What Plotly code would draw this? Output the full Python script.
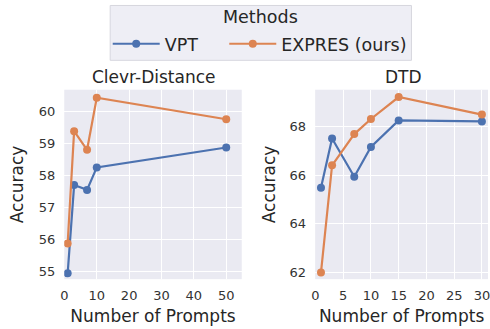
import plotly.graph_objects as go

# Data
clevr_x = [1, 3, 7, 10, 50]
clevr_vpt = [54.95, 57.70, 57.55, 58.25, 58.87]
clevr_expres = [55.88, 59.38, 58.80, 60.42, 59.75]

dtd_x = [1, 3, 7, 10, 15, 30]
dtd_vpt = [65.48, 67.50, 65.93, 67.15, 68.24, 68.20]
dtd_expres = [62.00, 66.40, 67.68, 68.30, 69.20, 68.48]

series_names = ["VPT", "EXPRES (ours)"]
colors = ["#4C72B0", "#DD8452"]
titles = ["Clevr-Distance", "DTD"]
legend_title = "Methods"

FONT = "DejaVu Sans"
TXT = "#262626"
W, H = 490, 329

fig = go.Figure()

def add(x, y, name, color, xa, ya, show, leg):
    fig.add_trace(go.Scatter(
        x=x, y=y, name=name, mode="lines+markers",
        line=dict(color=color, width=2.2),
        marker=dict(color=color, size=8),
        xaxis=xa, yaxis=ya, showlegend=show, legendgroup=name, legend=leg,
    ))

add(clevr_x, clevr_vpt, series_names[0], colors[0], "x", "y", True, "legend")
add(clevr_x, clevr_expres, series_names[1], colors[1], "x", "y", True, "legend2")
add(dtd_x, dtd_vpt, series_names[0], colors[0], "x2", "y2", False, "legend")
add(dtd_x, dtd_expres, series_names[1], colors[1], "x2", "y2", False, "legend2")

ydom = [1 - 280 / H, 1 - 90 / H]
axis_common = dict(
    showgrid=True, gridcolor="white", gridwidth=1, zeroline=False,
    showline=False, ticks="", tickfont=dict(family=FONT, size=13, color="#333333"),
    title_font=dict(family=FONT, size=17, color=TXT), ticklabeloverflow="allow",
)
leg_common = dict(
    orientation="h", yanchor="middle", y=1 - 44 / H, xanchor="left",
    bgcolor="rgba(0,0,0,0)", borderwidth=0, itemwidth=47,
    font=dict(family=FONT, size=17.5, color=TXT),
)

fig.update_layout(
    width=W, height=H,
    margin=dict(l=0, r=0, t=0, b=0),
    paper_bgcolor="white", plot_bgcolor="#EAEAF2",
    font=dict(family=FONT, color=TXT),
    xaxis=dict(domain=[61 / W, 240.7 / W], range=[-0.05, 54.8], tickvals=[0, 10, 20, 30, 40, 50],
               anchor="y", title=dict(text="Number of Prompts", standoff=7), ticklabelstandoff=7, **axis_common),
    yaxis=dict(domain=ydom, range=[54.77, 60.67], tickvals=[55, 56, 57, 58, 59, 60],
               anchor="x", title=dict(text="Accuracy", standoff=10), ticklabelstandoff=8, **axis_common),
    xaxis2=dict(domain=[315 / W, 1.0], range=[-0.05, 31.1], tickvals=[0, 5, 10, 15, 20, 25, 30],
                anchor="y2", title=dict(text="Number of Prompts", standoff=7), ticklabelstandoff=7, **axis_common),
    yaxis2=dict(domain=ydom, range=[61.73, 69.5], tickvals=[62, 64, 66, 68],
                anchor="x2", title=dict(text="Accuracy", standoff=9), ticklabelstandoff=8, **axis_common),
    legend=dict(x=105 / W, **leg_common),
    legend2=dict(x=223 / W, **leg_common),
    shapes=[dict(type="rect", xref="paper", yref="paper",
                 x0=107.5 / W, x1=412.5 / W, y0=1 - 60.5 / H, y1=1 - 5.5 / H,
                 fillcolor="rgba(234,234,242,0.8)", line=dict(color="#d6d6de", width=1), layer="below")],
    annotations=[
        dict(text=legend_title, x=259.5 / W, y=1 - 17.5 / H, xref="paper", yref="paper",
             showarrow=False, font=dict(family=FONT, size=17.5, color=TXT), xanchor="center", yanchor="middle"),
        dict(text=titles[0], x=(61 + 240.7) / 2 / W, y=1 - 77 / H, xref="paper", yref="paper",
             showarrow=False, font=dict(family=FONT, size=17, color=TXT), xanchor="center", yanchor="middle"),
        dict(text=titles[1], x=404 / W, y=1 - 77 / H, xref="paper", yref="paper",
             showarrow=False, font=dict(family=FONT, size=17, color=TXT), xanchor="center", yanchor="middle"),
    ],
)

fig.write_html("out.html", config={"displayModeBar": False},
               post_script="document.body.style.margin='0';document.body.style.overflow='hidden';")
